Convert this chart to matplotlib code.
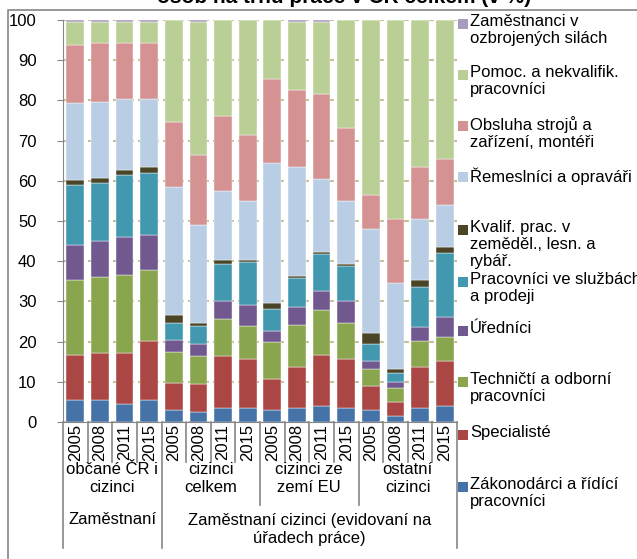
import matplotlib.pyplot as plt
from matplotlib.patches import Rectangle
from matplotlib.lines import Line2D
import numpy as np

plt.rcParams['font.family'] = ['Liberation Sans', 'DejaVu Sans']

years = ['2005', '2008', '2011', '2015'] * 4
groups = ['občané ČR i\ncizinci', 'cizinci\ncelkem', 'cizinci ze\nzemí EU', 'ostatní\ncizinci']
top_groups = ['Zaměstnaní', 'Zaměstnaní cizinci (evidovaní na\núřadech práce)']

categories = ['Zákonodárci a řídící\npracovníci', 'Specialisté', 'Techničtí a odborní\npracovníci',
              'Úředníci', 'Pracovníci ve službách\na prodeji', 'Kvalif. prac. v\nzeměděl., lesn. a\nrybář.',
              'Řemeslníci a opraváři', 'Obsluha strojů a\nzařízení, montéři', 'Pomoc. a nekvalifik.\npracovníci',
              'Zaměstnanci v\nozbrojených silách']

colors = ['#4572A7', '#AA4643', '#89A54E', '#71588F', '#4198AF',
          '#4B4528', '#B9CDE5', '#D49392', '#B9CF96', '#A99BBD']

# share of each group per bar (16 bars)
zakonodarci = [5.5, 5.5, 4.4, 5.5, 3.0, 2.5, 3.4, 3.4, 3.0, 3.4, 3.9, 3.4, 3.0, 1.5, 3.4, 3.9]
specialiste = [11.2, 11.7, 12.8, 14.7, 6.8, 6.9, 12.9, 12.3, 7.8, 10.4, 12.85, 12.3, 5.9, 3.5, 10.4, 11.35]
technicti = [18.5, 18.9, 19.4, 17.5, 7.5, 6.9, 9.4, 8.1, 9.0, 10.45, 11.0, 9.0, 4.4, 3.4, 6.45, 6.0]
urednici = [8.8, 8.9, 9.4, 8.8, 3.0, 3.0, 4.5, 5.4, 2.95, 4.45, 4.95, 5.5, 1.95, 1.5, 3.5, 4.95]
sluzby = [15.0, 14.4, 15.5, 15.4, 4.4, 4.5, 9.0, 10.5, 5.45, 7.0, 9.0, 8.5, 4.05, 2.4, 9.95, 15.9]
zemedel = [1.3, 1.4, 1.3, 1.5, 1.8, 0.9, 1.0, 0.5, 1.5, 0.5, 0.5, 0.5, 2.9, 1.0, 1.5, 1.5]
remeslnici = [19.0, 18.9, 17.5, 16.9, 31.9, 24.3, 17.3, 14.8, 34.7, 27.2, 18.3, 15.8, 25.9, 21.4, 15.3, 10.4]
obsluha = [14.4, 14.5, 13.9, 13.9, 16.3, 17.3, 18.7, 16.3, 20.85, 19.3, 21.2, 18.2, 8.3, 15.7, 12.9, 11.4]
pomocni = [5.9, 5.4, 5.4, 5.4, 25.3, 33.3, 23.8, 28.7, 14.75, 16.9, 17.9, 26.8, 43.6, 49.6, 36.6, 34.6]
ozbrojeni = [0.4, 0.4, 0.4, 0.4, 0.0, 0.4, 0.0, 0.0, 0.0, 0.4, 0.4, 0.0, 0.0, 0.0, 0.0, 0.0]

series = [zakonodarci, specialiste, technicti, urednici, sluzby,
          zemedel, remeslnici, obsluha, pomocni, ozbrojeni]

W, H = 637, 559
fig = plt.figure(figsize=(W / 100, H / 100), dpi=100)


def fx(px):
    return px / W


def fy(py):
    return 1 - py / H


left, right, top, bottom = 63, 457, 20, 422
ax = fig.add_axes([fx(left), fy(bottom), fx(right - left), fy(top) - fy(bottom)])

x = np.arange(len(years))
base = np.zeros(len(years))
for vals, c in zip(series, colors):
    vals = np.array(vals)
    ax.bar(x, vals, bottom=base, width=0.72, color=c, edgecolor='white', linewidth=0.3, zorder=3)
    base += vals

ax.set_xlim(-0.5, len(years) - 0.5)
ax.set_ylim(0, 100)
ax.set_yticks(range(0, 101, 10))
ax.tick_params(axis='y', labelsize=12, length=4, color='#868686', pad=15)
ax.set_xticks([])
ax.yaxis.grid(True, color='#C4BD97', linestyle=(0, (4, 2)), linewidth=1.5, zorder=0)
for s in ['top', 'right']:
    ax.spines[s].set_visible(False)
ax.spines['left'].set_color('#868686')
ax.spines['bottom'].set_color('#868686')

# multi-level category axis drawn in figure pixels
slot = (right - left) / len(years)
line_kw = dict(color='#868686', linewidth=1.2, transform=fig.transFigure)
for k in range(len(years) + 1):
    xp = left + k * slot
    if k in (0, 4, 16):
        yend = 548
    elif k in (8, 12):
        yend = 505
    else:
        yend = 462
    fig.add_artist(Line2D([fx(xp), fx(xp)], [fy(bottom), fy(yend)], **line_kw))

for i, yr in enumerate(years):
    fig.text(fx(left + (i + 0.5) * slot), fy(442), yr, rotation=90, ha='center', va='center', fontsize=12)

for g, name in enumerate(groups):
    fig.text(fx(left + (4 * g + 2) * slot), fy(479), name, ha='center', va='center',
             fontsize=12, linespacing=1.25)

fig.text(fx(left + 2 * slot), fy(520), top_groups[0], ha='center', va='center', fontsize=12)
fig.text(fx(left + 10 * slot), fy(530), top_groups[1], ha='center', va='center',
         fontsize=12, linespacing=1.25)

# chart border and clipped title
fig.add_artist(Line2D([fx(8), fx(8), fx(W + 5)], [fy(H + 5), fy(10), fy(10)], **line_kw))
fig.text(fx(344), fy(3), 'osob na trhu práce v ČR celkem (v %)', ha='center', va='baseline',
         fontsize=15, fontweight='bold')

# legend, drawn manually (reverse order)
legend_y = [487, 435, 382, 331, 282, 230, 177, 126, 75, 24]
for name, c, yc in zip(categories, colors, legend_y):
    fig.add_artist(Rectangle((fx(458), fy(yc + 5)), fx(10), fy(yc - 5) - fy(yc + 5),
                             transform=fig.transFigure, facecolor=c, edgecolor='none'))
    fig.text(fx(470), fy(yc - 10), name, ha='left', va='top', fontsize=12, linespacing=1.18)

fig.savefig('out.png', dpi=100)
